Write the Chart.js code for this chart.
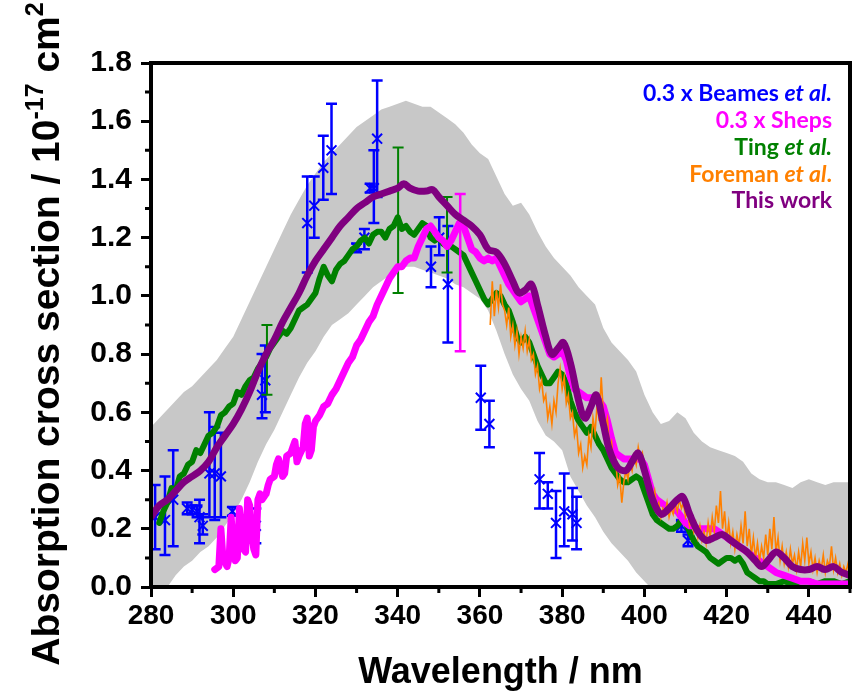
<!DOCTYPE html>
<html><head><meta charset="utf-8">
<script src="https://cdn.jsdelivr.net/npm/chart.js@4.4.1/dist/chart.umd.min.js"></script>
<style>html,body{margin:0;padding:0;background:#fff;overflow:hidden}#wrap{width:859px;height:693px;position:relative}</style>
</head><body><div id="wrap"><canvas id="c" width="859" height="693"></canvas></div>
<script>
// ---------- axis ticks ----------
const xTickValues = [280,300,320,340,360,380,400,420,440];
const xTickLabels = ['280','300','320','340','360','380','400','420','440'];
const xMinorTicks = [290,310,330,350,370,390,410,430,450];
const yTickValues = [0,0.2,0.4,0.6,0.8,1.0,1.2,1.4,1.6,1.8];
const yTickLabels = ['0.0','0.2','0.4','0.6','0.8','1.0','1.2','1.4','1.6','1.8'];
const yMinorTicks = [0.1,0.3,0.5,0.7,0.9,1.1,1.3,1.5,1.7];

// ---------- uncertainty band (This work) ----------
const bandNm = [280,282,284,286,288,290,292,294,296,298,
 300,302,304,306,308,310,312,314,316,318,
 320,322,324,326,328,330,332,334,336,338,
 340,342,344,346,348,350,352,354,356,358,
 360,362,364,366,368,370,372,374,376,378,
 380,382,384,386,388,390,392,394,396,398,
 400,402,404,406,408,410,412,414,416,418,
 420,422,424,426,428,430,432,434,436,438,
 440,442,444,446,448,450];
const bandUpper = [0.55,0.58,0.61,0.64,0.67,0.69,0.72,0.75,0.78,0.82,
 0.86,0.92,0.98,1.04,1.10,1.16,1.22,1.28,1.33,1.38,
 1.42,1.46,1.49,1.52,1.55,1.58,1.60,1.62,1.64,1.65,
 1.66,1.67,1.66,1.65,1.65,1.63,1.61,1.59,1.56,1.52,
 1.49,1.47,1.41,1.35,1.31,1.32,1.28,1.22,1.17,1.13,
 1.10,1.07,1.03,1.00,0.97,0.89,0.84,0.81,0.78,0.74,
 0.66,0.60,0.56,0.57,0.60,0.58,0.53,0.50,0.48,0.47,
 0.46,0.45,0.43,0.39,0.37,0.36,0.36,0.35,0.34,0.36,
 0.37,0.36,0.35,0.36,0.36,0.36];
const bandLower = [-0.08,-0.04,0.00,0.04,0.07,0.09,0.12,0.14,0.17,0.21,
 0.25,0.30,0.36,0.43,0.49,0.54,0.60,0.66,0.72,0.77,
 0.81,0.86,0.90,0.92,0.94,0.97,1.00,1.03,1.05,1.07,
 1.09,1.10,1.10,1.09,1.08,1.07,1.06,1.04,1.03,1.01,
 0.99,0.95,0.88,0.80,0.73,0.68,0.64,0.57,0.52,0.50,
 0.47,0.38,0.33,0.28,0.24,0.19,0.15,0.12,0.09,0.05,
 0.02,-0.01,-0.04,-0.06,-0.08,-0.10,-0.12,-0.14,-0.16,-0.18,
 -0.2,-0.2,-0.2,-0.2,-0.2,-0.2,-0.2,-0.2,-0.2,-0.2,
 -0.2,-0.2,-0.2,-0.2,-0.2,-0.2];

// ---------- This work ----------
const thisWorkNm = [280,282,284,286,288,290,292,294,296,298,
 300,302,304,306,308,310,312,314,316,318,
 320,322,324,326,328,330,332,334,336,338,
 340,341.5,343,345,347,348.5,350,352,354,356,
 358,360,362,364,366,368,369.5,371,372.5,374,
 376,377.5,379,380.3,382,384,385.5,387,388.3,390,
 391.5,393.5,395.5,397,398.5,400,402,404,406,408,
 409.3,411,413,415,417,419,421,423,425,427,
 428.5,430,432,434,436,438,440,442,444,446,
 448,450];
const thisWorkVal = [0.24,0.28,0.30,0.33,0.36,0.38,0.40,0.43,0.48,0.52,
 0.56,0.61,0.67,0.74,0.80,0.85,0.91,0.96,1.01,1.07,
 1.12,1.16,1.20,1.24,1.27,1.30,1.32,1.34,1.35,1.36,
 1.37,1.385,1.37,1.36,1.36,1.365,1.34,1.31,1.28,1.26,
 1.24,1.21,1.16,1.15,1.11,1.05,1.01,1.02,1.04,0.97,
 0.86,0.80,0.82,0.84,0.77,0.64,0.58,0.62,0.66,0.56,
 0.47,0.41,0.40,0.43,0.46,0.40,0.30,0.25,0.27,0.30,
 0.31,0.25,0.19,0.16,0.17,0.18,0.16,0.14,0.12,0.09,
 0.07,0.09,0.12,0.10,0.07,0.06,0.06,0.07,0.06,0.07,
 0.05,0.04];

// ---------- Ting et al. ----------
const tingNm = [282,283,284,285,286,287,288,289,290,291,
 292,293,294,295,296,297,298,299,300,301,
 302,303,304,305,306,307,308,309,310,311,
 312,313,314,315,316,317,318,319,320,321,
 322,323,324,325,326,327,328,329,330,331,
 332,333,334,335,336,337,338,339,340,341,
 342,343,344,345,346,347,348,349,350,351,
 352,353,354,355,356,357,358,359,360,361,
 362,363,364,365,366,367,368,369,370,371,
 372,373,374,375,376,377,378,379,380,381,
 382,383,384,385,386,387,388,389,390,391,
 392,393,394,395,396,397,398,399,400,401,
 402,403,404,405,406,407,408,409,410,411,
 412,413,414,415,416,417,418,419,420,421,
 422,423,424,425,426,427,428,429,
 430,432,434,436,438,440,442,444,446,448,450];
const tingVal = [0.22,0.26,0.29,0.34,0.33,0.38,0.39,0.42,0.43,0.47,
 0.46,0.49,0.52,0.53,0.55,0.59,0.60,0.62,0.63,0.67,
 0.66,0.69,0.71,0.72,0.75,0.77,0.79,0.82,0.84,0.86,
 0.88,0.87,0.89,0.92,0.95,0.96,0.97,0.99,1.01,1.06,
 1.10,1.07,1.05,1.09,1.11,1.12,1.14,1.16,1.17,1.19,
 1.20,1.18,1.21,1.22,1.22,1.20,1.23,1.24,1.27,1.23,
 1.24,1.22,1.21,1.23,1.25,1.24,1.20,1.19,1.20,1.18,
 1.17,1.17,1.16,1.15,1.14,1.11,1.08,1.05,1.02,0.99,
 0.97,0.99,1.01,1.00,0.97,0.95,0.91,0.86,0.84,0.86,
 0.84,0.80,0.76,0.73,0.70,0.70,0.72,0.74,0.73,0.70,
 0.64,0.60,0.57,0.55,0.53,0.55,0.52,0.49,0.47,0.44,
 0.41,0.39,0.37,0.36,0.36,0.37,0.38,0.37,0.33,0.29,
 0.25,0.23,0.22,0.21,0.20,0.20,0.21,0.23,0.22,0.19,
 0.16,0.14,0.13,0.12,0.10,0.09,0.08,0.09,0.10,0.10,
 0.09,0.10,0.08,0.05,0.04,0.03,0.02,0.02,
 0.01,0.01,0.02,0.01,0.02,0.02,0.01,0.02,0.02,0.01,0.02];
const tingErrNm = [308.2,340.1,352.0];
const tingErrLo = [0.66,1.01,1.08];
const tingErrHi = [0.90,1.51,1.34];

// ---------- 0.3 x Sheps ----------
const shepsNm = [295.5,296.5,297,297.5,298.5,299,299.5,300,300.5,301,
 301.5,302,302.5,303,303.5,304,304.5,305,305.5,306,
 306.5,307,308,308.5,309,310,310.5,311,311.5,312,
 312.5,313,314,314.5,315,315.5,316,317,317.5,318,
 318.5,319,319.5,320,321,322,323,324,325,326,
 327,328,329,330,331,332,333,334,335,336,
 337,338,339,340,341,342,343,344,345,346,
 347,348,349,350,351,352,353,354,355,356,
 357,358,359,360,361,362,363,364,365,366,
 367,368,369,370,371,372,373,374,375,376,
 377,378,379,380,381,382,383,384,385,386,
 387,388,389,390,391,392,393,394,395,396,
 397,398,399,400,401,402,403,404,405,406,
 407,408,409,410,411,412,413,414,415,416,
 417,418,419,420,422,424,426,428,430,432,
 434,436,438,440,442,444,446,448,450];
const shepsVal = [0.06,0.07,0.20,0.10,0.07,0.10,0.24,0.14,0.09,0.10,
 0.27,0.20,0.13,0.12,0.30,0.28,0.18,0.13,0.11,0.30,
 0.32,0.30,0.32,0.35,0.37,0.38,0.42,0.44,0.41,0.38,
 0.39,0.45,0.46,0.48,0.50,0.43,0.45,0.48,0.56,0.58,
 0.45,0.47,0.55,0.57,0.59,0.62,0.63,0.66,0.68,0.71,
 0.74,0.77,0.79,0.83,0.85,0.88,0.91,0.93,0.97,1.00,
 1.03,1.06,1.08,1.10,1.10,1.12,1.13,1.13,1.17,1.20,
 1.23,1.24,1.22,1.20,1.19,1.17,1.19,1.22,1.25,1.24,
 1.20,1.16,1.15,1.13,1.12,1.13,1.12,1.13,1.10,1.07,
 1.04,1.02,1.00,0.98,0.99,1.00,0.96,0.92,0.88,0.84,
 0.80,0.79,0.80,0.81,0.78,0.72,0.68,0.67,0.66,0.65,
 0.65,0.65,0.64,0.62,0.57,0.51,0.46,0.45,0.44,0.44,
 0.44,0.44,0.44,0.42,0.37,0.32,0.30,0.29,0.28,0.27,
 0.27,0.26,0.24,0.22,0.21,0.21,0.20,0.20,0.20,0.20,
 0.20,0.19,0.18,0.17,0.15,0.13,0.11,0.09,0.07,0.05,
 0.04,0.03,0.02,0.02,0.01,0.01,0.01,0.01,0.01];
const shepsErrNm = [355.2];
const shepsErrLo = [0.81];
const shepsErrHi = [1.35];

// ---------- Foreman et al. ----------
const foremanNm = [362.5,363,363.5,364,364.5,365,365.5,366,366.5,367,
 367.5,368,368.5,369,369.5,370,370.5,371,371.5,372,
 372.5,373,373.5,374,374.5,375,375.5,376,376.5,377,
 377.5,378,378.5,379,379.5,380,380.5,381,381.5,382,
 382.5,383,383.5,384,384.5,385,385.5,386,386.5,387,
 387.5,388,388.5,389,389.5,390,390.5,391,391.5,392,
 392.5,393,393.5,394,394.5,395,395.5,396,396.5,397,
 397.5,398,398.5,399,399.5,400,400.5,401,401.5,402,
 402.5,403,403.5,404,404.5,405,405.5,406,406.5,407,
 407.5,408,408.5,409,409.5,410,410.5,411,411.5,412,
 412.5,413,413.5,414,414.5,415,415.5,416,416.5,417,
 417.5,418,418.5,419,419.5,420,420.5,421,421.5,422,
 422.5,423,423.5,424,424.5,425,425.5,426,426.5,427,
 427.5,428,428.5,429,429.5,430,430.5,431,431.5,432,
 432.5,433,433.5,434,434.5,435,435.5,436,436.5,437,
 437.5,438,438.5,439,439.5,440,440.5,441,441.5,442,
 442.5,443,443.5,444,444.5,445,445.5,446,446.5,447,
 447.5,448,448.5,449,449.5,450];
const foremanVal = [0.90,1.05,0.93,1.02,0.96,1.04,0.97,0.95,0.90,0.96,
 0.86,0.90,0.83,0.88,0.80,0.86,0.82,0.88,0.81,0.85,
 0.78,0.80,0.73,0.76,0.68,0.71,0.64,0.66,0.58,0.62,
 0.56,0.64,0.60,0.70,0.75,0.68,0.72,0.63,0.66,0.58,
 0.60,0.52,0.55,0.46,0.49,0.41,0.45,0.42,0.52,0.48,
 0.58,0.53,0.63,0.57,0.72,0.60,0.55,0.58,0.48,0.50,
 0.42,0.44,0.35,0.38,0.29,0.36,0.40,0.37,0.43,0.40,
 0.45,0.42,0.48,0.44,0.46,0.40,0.38,0.33,0.35,0.30,
 0.33,0.27,0.29,0.24,0.27,0.25,0.29,0.24,0.27,0.25,
 0.29,0.26,0.30,0.27,0.29,0.24,0.26,0.21,0.23,0.19,
 0.22,0.17,0.21,0.16,0.19,0.15,0.22,0.17,0.24,0.19,
 0.28,0.22,0.33,0.20,0.26,0.16,0.22,0.15,0.19,0.13,
 0.18,0.14,0.21,0.15,0.26,0.14,0.20,0.11,0.17,0.10,
 0.15,0.09,0.14,0.10,0.18,0.11,0.20,0.13,0.24,0.12,
 0.17,0.09,0.14,0.08,0.12,0.07,0.13,0.08,0.11,0.06,
 0.12,0.07,0.15,0.09,0.17,0.08,0.12,0.06,0.10,0.05,
 0.09,0.06,0.11,0.05,0.09,0.07,0.14,0.06,0.10,0.05,
 0.08,0.04,0.07,0.05,0.08,0.05];

// ---------- 0.3 x Beames et al. (points with error bars) ----------
const beamesNm = [281.0,283.4,285.4,288.8,290.0,291.2,291.8,292.6,294.2,295.5,
 297.0,299.8,305.5,307.0,307.8,318.0,319.7,321.9,323.9,330.0,
 331.9,333.3,334.2,335.0,348.1,350.1,352.2,360.2,362.3,374.5,
 376.5,378.5,380.5,382.5,383.5,409.0,410.6];
const beamesVal = [0.24,0.23,0.30,0.27,0.265,0.26,0.24,0.21,0.39,0.39,
 0.38,0.26,0.21,0.66,0.71,1.25,1.31,1.44,1.50,1.165,
 1.20,1.37,1.37,1.54,1.10,1.20,1.04,0.65,0.56,0.37,
 0.32,0.22,0.26,0.25,0.22,0.21,0.16];
const beamesLo = [0.13,0.11,0.14,0.25,0.25,0.24,0.15,0.18,0.24,0.23,
 0.24,0.245,0.15,0.58,0.60,1.08,1.20,1.33,1.35,1.15,
 1.16,1.355,1.25,1.34,1.03,1.14,0.84,0.54,0.48,0.27,
 0.27,0.10,0.14,0.16,0.13,0.19,0.14];
const beamesHi = [0.35,0.38,0.47,0.29,0.28,0.28,0.30,0.25,0.60,0.55,
 0.53,0.275,0.27,0.80,0.83,1.41,1.41,1.55,1.66,1.18,
 1.23,1.385,1.50,1.74,1.17,1.27,1.24,0.76,0.64,0.46,
 0.36,0.33,0.39,0.34,0.31,0.23,0.18];

// ---------- legend ----------
const legendParts = [
  [['0.3 x Beames ', false], ['et al.', true]],
  [['0.3 x Sheps', false]],
  [['Ting ', false], ['et al.', true]],
  [['Foreman ', false], ['et al', true], ['.', false]],
  [['This work', false]]
];
const legendColors = ['#0000ff', '#ff00ff', '#008000', '#ff8000', '#800080'];

const xy = (xs, ys) => xs.map((x, i) => ({ x: x, y: ys[i] }));
const FONT = "'Liberation Sans', Arial, Helvetica, sans-serif";

const errorBarPlugin = {
  id: 'errorBars',
  afterDatasetDraw(chart, args) {
    const ds = chart.data.datasets[args.index];
    if (!ds.errorBars) return;
    const eb = ds.errorBars, sx = chart.scales.x, sy = chart.scales.y, a = chart.chartArea, c = chart.ctx;
    c.save();
    c.beginPath(); c.rect(a.left, a.top, a.right - a.left, a.bottom - a.top); c.clip();
    c.strokeStyle = eb.color; c.lineWidth = eb.width; c.lineCap = 'butt';
    for (let i = 0; i < eb.x.length; i++) {
      const px = sx.getPixelForValue(eb.x[i]);
      const p1 = sy.getPixelForValue(eb.lo[i]), p2 = sy.getPixelForValue(eb.hi[i]);
      c.beginPath();
      c.moveTo(px, p1); c.lineTo(px, p2);
      c.moveTo(px - eb.cap, p1); c.lineTo(px + eb.cap, p1);
      c.moveTo(px - eb.cap, p2); c.lineTo(px + eb.cap, p2);
      c.stroke();
    }
    c.restore();
  }
};

const framePlugin = {
  id: 'frame',
  afterDatasetsDraw(chart) {
    const a = chart.chartArea, c = chart.ctx, sx = chart.scales.x, sy = chart.scales.y;
    c.save();
    c.strokeStyle = '#000'; c.lineWidth = 4; c.lineCap = 'square';
    c.strokeRect(a.left, a.top, a.right - a.left, a.bottom - a.top);
    c.lineCap = 'butt'; c.lineWidth = 3;
    c.beginPath();
    xMinorTicks.forEach(v => { const p = sx.getPixelForValue(v); c.moveTo(p, a.bottom); c.lineTo(p, a.bottom + 6); });
    yMinorTicks.forEach(v => { const p = sy.getPixelForValue(v); c.moveTo(a.left, p); c.lineTo(a.left - 6, p); });
    c.stroke();
    c.restore();
  }
};

const textPlugin = {
  id: 'texts',
  afterDraw(chart) {
    const c = chart.ctx, a = chart.chartArea;
    c.save();
    // x title
    c.fillStyle = '#000';
    c.font = 'bold 36px ' + FONT;
    c.textAlign = 'center'; c.textBaseline = 'alphabetic';
    c.fillText('Wavelength / nm', (a.left + a.right) / 2, 683);
    // y title with superscripts
    const big = 'bold 39px ' + FONT, small = 'bold 25px ' + FONT;
    const parts = [['Absorption cross section / 10', big, 0], ['-17', small, -16], [' cm', big, 0], ['2', small, -16]];
    let total = 0;
    parts.forEach(p => { c.font = p[1]; total += c.measureText(p[0]).width; });
    c.translate(59, 334);
    c.rotate(-Math.PI / 2);
    c.textAlign = 'left';
    let x = -total / 2;
    parts.forEach(p => { c.font = p[1]; c.fillText(p[0], x, p[2]); x += c.measureText(p[0]).width; });
    c.restore();
    // legend
    c.save();
    c.textBaseline = 'middle'; c.textAlign = 'left';
    const rightX = 832, y0 = 94, dy = 26.7;
    const fnt = it => (it ? 'italic ' : '') + 'bold 23px Lato, ' + FONT;
    legendParts.forEach((parts, i) => {
      let w = 0;
      parts.forEach(p => { c.font = fnt(p[1]); w += c.measureText(p[0]).width; });
      let x = rightX - w;
      c.fillStyle = legendColors[i];
      parts.forEach(p => { c.font = fnt(p[1]); c.fillText(p[0], x, y0 + i * dy); x += c.measureText(p[0]).width; });
    });
    c.restore();
  }
};

Chart.defaults.font.family = FONT;

new Chart(document.getElementById('c').getContext('2d'), {
  type: 'line',
  data: {
    datasets: [
      { label: 'band lower', data: xy(bandNm, bandLower), borderColor: 'rgba(0,0,0,0)', borderWidth: 0, pointRadius: 0, fill: false, order: 10 },
      { label: 'band upper', data: xy(bandNm, bandUpper), borderColor: 'rgba(0,0,0,0)', borderWidth: 0, pointRadius: 0, fill: '-1', backgroundColor: '#c8c8c8', order: 9 },
      { label: '0.3 x Beames et al.', data: xy(beamesNm, beamesVal), showLine: false, pointStyle: 'crossRot', pointRadius: 7, pointBorderWidth: 2, borderColor: '#0000ff', backgroundColor: '#0000ff', order: 6,
        errorBars: { x: beamesNm, lo: beamesLo, hi: beamesHi, color: '#0000ff', width: 2.5, cap: 5.5 } },
      { label: 'Ting et al.', data: xy(tingNm, tingVal), borderColor: '#008000', borderWidth: 6, pointRadius: 0, borderJoinStyle: 'round', borderCapStyle: 'round', order: 5,
        errorBars: { x: tingErrNm, lo: tingErrLo, hi: tingErrHi, color: '#008000', width: 2, cap: 5.5 } },
      { label: '0.3 x Sheps', data: xy(shepsNm, shepsVal), borderColor: '#ff00ff', borderWidth: 7, pointRadius: 0, borderJoinStyle: 'round', borderCapStyle: 'round', order: 4,
        errorBars: { x: shepsErrNm, lo: shepsErrLo, hi: shepsErrHi, color: '#ff00ff', width: 2.5, cap: 5.5 } },
      { label: 'Foreman et al.', data: xy(foremanNm, foremanVal), borderColor: '#ff8000', borderWidth: 1.6, pointRadius: 0, order: 3 },
      { label: 'This work', data: xy(thisWorkNm, thisWorkVal), borderColor: '#800080', borderWidth: 7, pointRadius: 0, tension: 0.35, borderJoinStyle: 'round', borderCapStyle: 'round', order: 1 }
    ]
  },
  options: {
    responsive: false, animation: false, devicePixelRatio: 1,
    layout: { padding: { top: 63, right: 2, left: 0, bottom: 0 } },
    plugins: { legend: { display: false }, tooltip: { enabled: false } },
    scales: {
      x: {
        type: 'linear', min: 280, max: 450,
        afterBuildTicks: s => { s.ticks = xTickValues.map(v => ({ value: v })); },
        afterFit: s => { s.height = 106; },
        ticks: { callback: (v, i) => xTickLabels[i], font: { size: 28, weight: 'bold' }, color: '#000', padding: 2, maxRotation: 0, autoSkip: false },
        grid: { display: true, drawOnChartArea: false, drawTicks: true, tickLength: 10, tickWidth: 3, tickColor: '#000', color: '#000' },
        border: { display: false }
      },
      y: {
        type: 'linear', min: 0, max: 1.8,
        afterBuildTicks: s => { s.ticks = yTickValues.map(v => ({ value: v })); },
        afterFit: s => { s.width = 151; },
        ticks: { callback: (v, i) => yTickLabels[i], font: { size: 30, weight: 'bold' }, color: '#000', padding: 9, autoSkip: false },
        grid: { display: true, drawOnChartArea: false, drawTicks: true, tickLength: 10, tickWidth: 3, tickColor: '#000', color: '#000' },
        border: { display: false }
      }
    }
  },
  plugins: [errorBarPlugin, framePlugin, textPlugin]
});
</script></body></html>
